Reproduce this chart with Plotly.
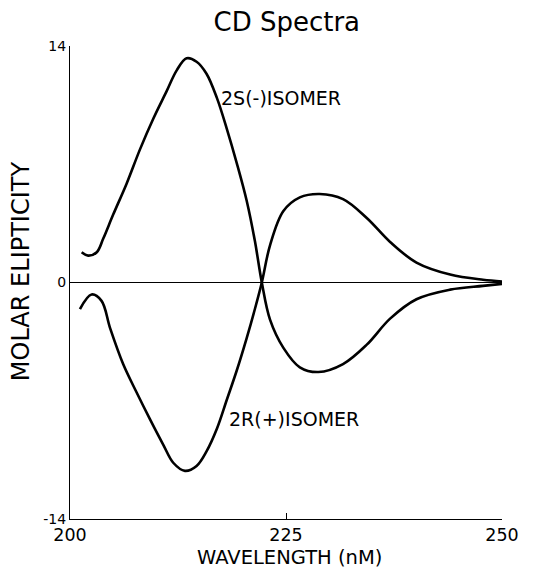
import plotly.graph_objects as go

# Wavelength (nm) and molar ellipticity
s_wl = [201.35, 202.1, 203.1, 203.85, 205.0, 206.55, 208.1, 209.65, 211.2, 212.35, 213.5, 214.65,
        215.8, 217.0, 218.15, 219.3, 220.45, 221.4, 222.2,
        223.15, 224.7, 226.6, 228.75, 231.6, 234.35, 237.05, 240.1, 244.0, 247.8, 250.0]
s_val = [1.79, 1.59, 1.79, 2.6, 4.02, 5.85, 7.88, 9.71, 11.34, 12.56, 13.27, 13.07,
         12.36, 10.93, 9.1, 7.07, 4.84, 2.45, 0.0,
         -2.2, -3.87, -5.02, -5.3, -4.83, -3.68, -2.14, -0.99, -0.42, -0.2, -0.08]

r_wl = [201.15, 202.5, 203.65, 204.65, 206.15, 207.7, 209.25, 210.8, 211.95, 213.3, 214.65,
        215.8, 217.0, 218.15, 219.3, 220.45, 221.4, 222.2,
        223.15, 224.7, 226.6, 228.9, 231.6, 234.35, 237.05, 240.1, 244.0, 247.8, 250.0]
r_val = [-1.57, -0.71, -1.09, -2.72, -4.83, -6.5, -8.09, -9.61, -10.67, -11.15, -10.86,
         -10.0, -8.66, -6.94, -5.21, -3.29, -1.57, 0.0,
         2.2, 4.23, 5.04, 5.24, 4.94, 3.82, 2.4, 1.18, 0.47, 0.16, 0.06]

x_ticks = [200, 225, 250]
y_ticks = [-14, 0, 14]

font_family = "DejaVu Sans, Verdana, sans-serif"

fig = go.Figure()
for wl, val, nm in [(s_wl, s_val, "2S(-)ISOMER"), (r_wl, r_val, "2R(+)ISOMER")]:
    fig.add_trace(go.Scatter(x=wl, y=val, mode="lines",
                             line=dict(color="black", width=2.6, shape="spline", smoothing=1.0),
                             name=nm, hoverinfo="skip", cliponaxis=False))

fig.add_annotation(x=217.3, y=10.9, text="2S(-)ISOMER", showarrow=False, xanchor="left", yanchor="middle",
                   font=dict(family=font_family, size=19, color="black"))
fig.add_annotation(x=218.2, y=-8.1, text="2R(+)ISOMER", showarrow=False, xanchor="left", yanchor="middle",
                   font=dict(family=font_family, size=19, color="black"))

# axis titles
fig.add_annotation(xref="paper", yref="paper", x=0.509, y=0, yanchor="middle", xanchor="center", yshift=-38,
                   text="WAVELENGTH (nM)", showarrow=False,
                   font=dict(family=font_family, size=19.5, color="black"))
fig.add_annotation(xref="paper", yref="paper", x=0, y=0.524, xanchor="center", yanchor="middle", xshift=-49,
                   text="MOLAR ELIPTICITY", textangle=-90, showarrow=False,
                   font=dict(family=font_family, size=24, color="black"))

fig.update_layout(
    width=525, height=560,
    margin=dict(l=62, r=31, t=38, b=49),
    paper_bgcolor="white", plot_bgcolor="white",
    showlegend=False,
    font=dict(family=font_family, color="black"),
    title=dict(text="CD Spectra", x=0.531, xanchor="center", y=0.975, yanchor="middle",
               font=dict(family=font_family, size=26, color="black")),
    xaxis=dict(range=[200, 250], tickvals=x_ticks, ticktext=[str(v) for v in x_ticks], automargin=False,
               showgrid=False, zeroline=False, showline=True, linecolor="black", linewidth=1.2,
               ticks="inside", ticklen=6, tickcolor="black", tickfont=dict(size=17.5)),
    yaxis=dict(range=[-14, 14], tickvals=y_ticks, ticktext=[str(v) for v in y_ticks], automargin=False,
               showgrid=False, zeroline=True, zerolinecolor="black", zerolinewidth=1.2,
               showline=True, linecolor="black", linewidth=1.2,
               ticks="inside", ticklen=6, tickcolor="black", tickfont=dict(size=14)),
)

fig.write_html("out.html")
